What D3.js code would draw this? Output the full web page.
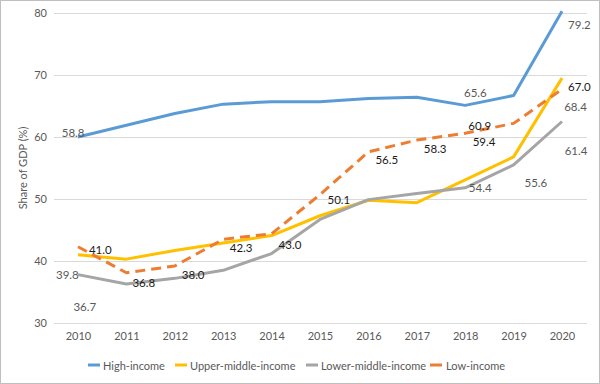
<!DOCTYPE html>
<html>
<head>
<meta charset="utf-8">
<script src="https://cdn.jsdelivr.net/npm/d3@7"></script>
<style>
  body { margin: 0; background: #fff; }
  text { font-family: Lato, "Open Sans", sans-serif; }
</style>
</head>
<body>
<div id="chart"></div>
<script>
// data
let years = [2010, 2011, 2012, 2013, 2014, 2015, 2016, 2017, 2018, 2019, 2020];
let highIncome = [60.0, 61.9, 63.8, 65.3, 65.7, 65.7, 66.2, 66.4, 65.1, 66.7, 80.3];
let upperMiddle = [41.0, 40.3, 41.7, 42.9, 44.1, 47.3, 49.8, 49.4, 53.1, 56.8, 69.5];
let lowerMiddle = [37.8, 36.3, 37.2, 38.5, 41.2, 46.7, 49.9, 50.9, 51.8, 55.5, 62.5];
let lowIncome = [42.3, 38.1, 39.2, 43.5, 44.4, 50.7, 57.6, 59.5, 60.6, 62.2, 67.7];
let seriesNames = ["High-income", "Upper-middle-income", "Lower-middle-income", "Low-income"];
let yTicks = [30, 40, 50, 60, 70, 80];

// data labels as they sit in the reference (anchor year, anchor value, text)
let labelText = ["58.8", "39.8", "36.7", "41.0", "36.8", "38.0", "42.3", "43.0", "50.1", "56.5",
  "58.3", "59.4", "60.9", "65.6", "54.4", "55.6", "79.2", "67.0", "68.4", "61.4"];
let labelYear = [2009.90, 2009.78, 2010.14, 2010.46, 2011.36, 2012.38, 2013.37, 2014.38, 2015.39, 2016.38,
  2017.38, 2018.39, 2018.30, 2018.21, 2018.31, 2019.46, 2020.36, 2020.36, 2020.28, 2020.29];
let labelValue = [60.8, 37.9, 32.6, 41.8, 36.6, 37.9, 42.1, 42.7, 50.0, 56.45,
  58.2, 59.2, 61.9, 67.1, 51.9, 52.6, 78.1, 68.1, 65.0, 57.9];
let labelDark = [false, false, false, true, true, true, true, true, true, true,
  true, true, true, false, false, false, false, true, false, false];

let width = 600, height = 384;
let plotL = 54, plotR = 587, plotT = 13, plotB = 323;
let colors = ["#5b9bd5", "#ffc000", "#a5a5a5", "#ed7d31"];
let values = [highIncome, upperMiddle, lowerMiddle, lowIncome];

let svg = d3.select("#chart").append("svg")
  .attr("width", width)
  .attr("height", height);

svg.append("rect")
  .attr("x", 0.5).attr("y", 0.5)
  .attr("width", width - 1).attr("height", height - 1)
  .attr("fill", "#fff")
  .attr("stroke", "#bfbfbf");

let x = d3.scaleLinear().domain([2009.5, 2020.5]).range([53.8, 586.2]);
let y = d3.scaleLinear().domain([30, 80]).range([plotB, plotT]);

// gridlines + y labels
let yAxis = svg.append("g")
  .attr("transform", `translate(${plotL},0)`)
  .call(d3.axisLeft(y).tickValues(yTicks).tickSize(-(plotR - plotL)).tickPadding(7));
yAxis.select(".domain").remove();
yAxis.selectAll(".tick line").attr("stroke", "#d9d9d9").attr("stroke-width", 1);
yAxis.selectAll(".tick text").attr("fill", "#595959").style("font-size", "11px");

// x labels
let xAxis = svg.append("g")
  .attr("transform", `translate(0,${plotB})`)
  .call(d3.axisBottom(x).tickValues(years).tickFormat(d3.format("d")).tickSize(0).tickPadding(9));
xAxis.select(".domain").remove();
xAxis.selectAll(".tick text").attr("fill", "#595959").style("font-size", "11px");

svg.append("text")
  .attr("transform", `translate(22,${(plotT + plotB) / 2}) rotate(-90)`)
  .attr("text-anchor", "middle")
  .attr("dominant-baseline", "central")
  .attr("fill", "#595959")
  .style("font-size", "11px")
  .text("Share of GDP (%)");

let line = d3.line()
  .x((d, i) => x(years[i]))
  .y(d => y(d));

values.forEach((vals, k) => {
  svg.append("path")
    .datum(vals)
    .attr("d", line)
    .attr("fill", "none")
    .attr("stroke", colors[k])
    .attr("stroke-width", 3)
    .attr("stroke-linejoin", "round")
    .attr("stroke-dasharray", k == 3 ? "10,6" : null);
});

// data labels
svg.append("g").selectAll("text")
  .data(labelText)
  .enter()
  .append("text")
  .attr("x", (d, i) => x(labelYear[i]))
  .attr("y", (d, i) => y(labelValue[i]))
  .attr("text-anchor", "middle")
  .attr("dominant-baseline", "central")
  .attr("fill", (d, i) => labelDark[i] ? "#1a1a1a" : "#595959")
  .style("font-size", "11.5px")
  .text(d => d);

// legend
let legendX = [88, 175, 306, 430];
let legend = svg.append("g").selectAll("g")
  .data(seriesNames)
  .enter()
  .append("g")
  .attr("transform", (d, i) => `translate(${legendX[i]},365)`);
legend.append("line")
  .attr("x1", 0).attr("x2", 12)
  .attr("stroke", (d, i) => colors[i])
  .attr("stroke-width", 3);
legend.append("text")
  .attr("x", (d, i) => i == 3 ? 16 : 15)
  .attr("dominant-baseline", "central")
  .attr("fill", "#595959")
  .style("font-size", "11px")
  .text(d => d);
</script>
</body>
</html>
